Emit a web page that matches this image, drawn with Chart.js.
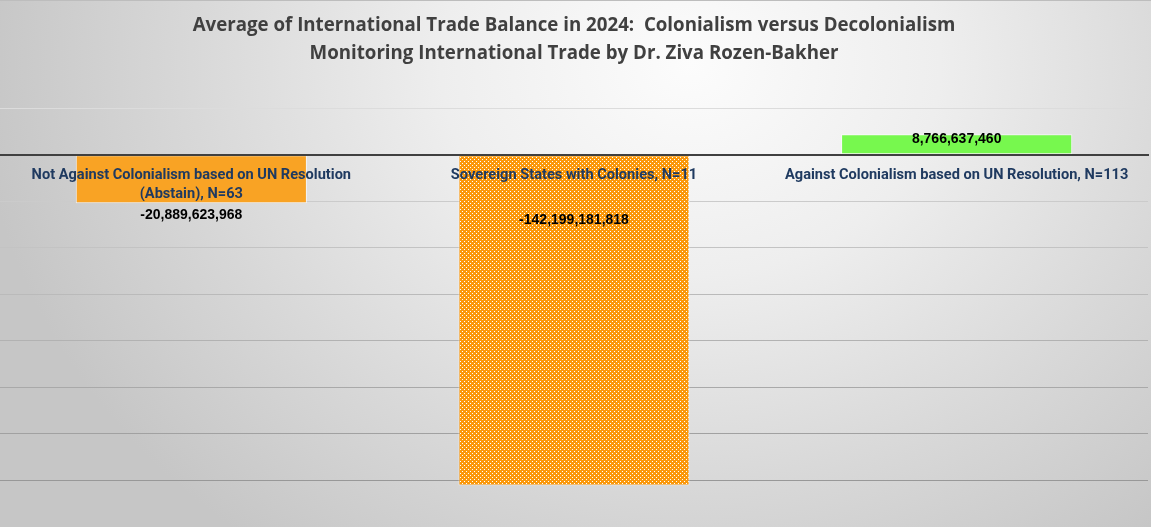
<!DOCTYPE html>
<html>
<head>
<meta charset="utf-8">
<script src="https://cdn.jsdelivr.net/npm/chart.js@4.4.1/dist/chart.umd.min.js"></script>
<style>
  html, body { margin: 0; padding: 0; }
  #wrap {
    width: 1151px; height: 527px; position: relative; box-sizing: border-box;
    border-top: 1px solid #bdbdbd;
    background: radial-gradient(ellipse 62% 115% at 60% 12%, #fcfcfc 0%, #eeeeee 35%, #d8d8d8 70%, #c6c6c6 100%);
  }
</style>
</head>
<body>
<div id="wrap"><canvas id="tradeChart"></canvas></div>
<script>
const categories = [
  ['Not Against Colonialism based on UN Resolution', '(Abstain), N=63'],
  'Sovereign States with Colonies, N=11',
  'Against Colonialism based on UN Resolution, N=113'
];
const balances = [-20889623968, -142199181818, 8766637460];
const titleLines = [
  'Average of International Trade Balance in 2024:  Colonialism versus Decolonialism',
  'Monitoring International Trade by Dr. Ziva Rozen-Bakher'
];
const axisMin = -160000000000;
const axisMax = 20000000000;
const axisStep = 20000000000;

// dotted orange fill for the middle bar
function dotPattern(ctx) {
  const c = document.createElement('canvas');
  c.width = 4; c.height = 4;
  const p = c.getContext('2d');
  p.fillStyle = '#fb980a';
  p.fillRect(0, 0, 4, 4);
  p.fillStyle = '#ffffff';
  p.fillRect(0, 0, 1, 1);
  p.fillRect(2, 2, 1, 1);
  return ctx.createPattern(c, 'repeat');
}

// value labels, placed like in the original workbook
const valueLabels = {
  id: 'valueLabels',
  afterDraw(chart) {
    const ctx = chart.ctx;
    const meta = chart.getDatasetMeta(0);
    ctx.save();
    ctx.font = 'bold 14px "Liberation Sans", Arial, sans-serif';
    ctx.fillStyle = '#000000';
    ctx.textAlign = 'center';
    ctx.textBaseline = 'middle';
    meta.data.forEach(function(bar, i) {
      const txt = balances[i].toLocaleString('en-US');
      let y;
      if (i == 0) y = bar.y + 12;
      else if (i == 1) y = bar.base + 65;
      else y = bar.y + 5;
      ctx.fillText(txt, bar.x, y);
    });
    ctx.restore();
  }
};

// gridlines get darker towards the bottom of the plot
function gridShade(c) {
  const v = c.tick.value;
  if (v == 0) return '#404040';
  if (v > 0) return '#dcdcdc';
  const t = -v / 140000000000;
  const g = Math.round(0xd4 - t * (0xd4 - 0x98));
  return 'rgb(' + g + ',' + g + ',' + g + ')';
}

const ctx = document.getElementById('tradeChart').getContext('2d');

const myChart = new Chart(ctx, {
  type: 'bar',
  data: {
    labels: categories,
    datasets: [{
      data: balances,
      backgroundColor: ['#f9a324', dotPattern(ctx), '#77f84e'],
      borderColor: ['rgba(255,255,255,0.7)', 'rgba(255,255,255,0.5)', 'rgba(255,255,255,0.7)'],
      borderWidth: 1,
      borderSkipped: false,
      barPercentage: 0.604,
      categoryPercentage: 1
    }]
  },
  options: {
    responsive: true,
    maintainAspectRatio: false,
    animation: false,
    layout: { padding: { left: 0, right: 3, top: 0, bottom: 0 } },
    plugins: {
      legend: { display: false },
      tooltip: { enabled: false },
      title: {
        display: true,
        text: titleLines,
        color: '#404040',
        font: { family: '"Open Sans"', size: 18.7, weight: 'bold', lineHeight: 1.5 },
        padding: { top: 11, bottom: 40 }
      }
    },
    scales: {
      x: {
        position: { y: 0 },
        grid: { display: false, drawTicks: false },
        border: { display: true, color: '#404040', width: 2, z: 2 },
        ticks: {
          z: 2,
          autoSkip: false,
          maxRotation: 0,
          padding: 11,
          color: '#1f3a60',
          font: { family: 'Roboto', size: 14.6, weight: 'bold', lineHeight: 1.3 }
        }
      },
      y: {
        min: axisMin,
        max: axisMax,
        ticks: { display: false, stepSize: axisStep },
        border: { display: false },
        grid: {
          drawTicks: false,
          lineWidth: 1,
          color: gridShade
        }
      }
    }
  },
  plugins: [valueLabels]
});
</script>
</body>
</html>
